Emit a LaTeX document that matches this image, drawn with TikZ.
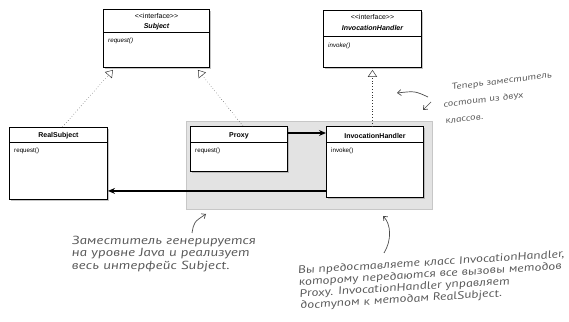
\documentclass[tikz,border=0pt]{standalone}
\usepackage{fontspec}
\setmainfont{Liberation Sans}
\newfontfamily\stereofont{Liberation Sans}
\newfontfamily\handfont[FakeStretch=1.3, ItalicFeatures={FakeSlant=-0.16}]{PT Sans}
\usetikzlibrary{calc,positioning,arrows.meta,shadows}
\tikzstyle{umlbox}    = [draw, line width=0.8pt, fill=white, anchor=north west, inner sep=0pt, drop shadow={shadow xshift=1.6pt, shadow yshift=-1.6pt, fill=black!45}]
\tikzstyle{umlline}   = [line width=0.8pt]
\tikzstyle{stereo}    = [inner sep=0pt, font=\stereofont\fontsize{6}{6}\selectfont]
\tikzstyle{cname}     = [inner sep=0pt, font=\bfseries\fontsize{6}{7}\selectfont]
\tikzstyle{method}    = [inner sep=0pt, anchor=west, font=\fontsize{5.3}{6}\selectfont]
\tikzstyle{realize}   = [thin, dotted, black!80, -{Triangle[open, length=6pt, width=8pt]}]
\tikzstyle{assoc}     = [-{Stealth[length=6pt, width=5pt]}]
\tikzstyle{note}      = [inner sep=0pt, align=left, text=black!65]
\tikzstyle{notearrow} = [black!70, semithick, -{Straight Barb[length=3pt, width=5pt]}]

\begin{document}
\begin{tikzpicture}[x=0.3mm, y=-0.3mm]
        \useasboundingbox (0,0) rectangle (569,322);

        % proxy group
        \fill[black!11, draw=black!22] (186,121) rectangle (432,209);

        % interfaces
        \node[umlbox, minimum width=31.8mm, minimum height=17.4mm] (subj) at (103,9) {};
        \draw[umlline] ($(subj.north west)+(0,23)$) -- ($(subj.north east)+(0,23)$);
        \node[stereo] (subjst) at ($(subj.north)+(0,7)$) {<<interface>>};
        \node[cname] (subjname) at ($(subj.north)+(0,18)$) {\itshape Subject};
        \node[method] (subjreq) at ($(subj.north west)+(5,32)$) {\itshape request()};

        \node[umlbox, minimum width=29.4mm, minimum height=17.1mm] (ihint) at (323,10) {};
        \draw[umlline] ($(ihint.north west)+(0,26)$) -- ($(ihint.north east)+(0,26)$);
        \node[stereo] (ihintst) at ($(ihint.north)+(0,7)$) {<<interface>>};
        \node[cname] (ihintname) at ($(ihint.north)+(0,18)$) {\itshape InvocationHandler};
        \node[method] (ihintinv) at ($(ihint.north west)+(5,36)$) {\itshape invoke()};

        % classes
        \node[umlbox, minimum width=29.4mm, minimum height=21.6mm] (real) at (9,127) {};
        \draw[umlline] ($(real.north west)+(0,15)$) -- ($(real.north east)+(0,15)$);
        \node[cname] (realname) at ($(real.north)+(0,9)$) {RealSubject};
        \node[method] (realreq) at ($(real.north west)+(5,24)$) {request()};

        \node[umlbox, minimum width=29.1mm, minimum height=13.5mm] (proxy) at (190,126) {};
        \draw[umlline] ($(proxy.north west)+(0,16)$) -- ($(proxy.north east)+(0,16)$);
        \node[cname] (proxyname) at ($(proxy.north)+(0,10)$) {Proxy};
        \node[method] (proxyreq) at ($(proxy.north west)+(5,25)$) {request()};

        \node[umlbox, minimum width=29.1mm, minimum height=21.3mm] (ih) at (326,126) {};
        \draw[umlline] ($(ih.north west)+(0,16)$) -- ($(ih.north east)+(0,16)$);
        \node[cname] (ihname) at ($(ih.north)+(0,10)$) {InvocationHandler};
        \node[method] (ihinv) at ($(ih.north west)+(5,25)$) {invoke()};

        % connectors
        \coordinate (callout) at ($(proxy.north east)+(0,7)$);
        \coordinate (callback) at ($(ih.south west)+(0,-7)$);
        \draw[realize] ($(real.north)+(4,0)$) -- ($(subj.south west)+(10,2)$);
        \draw[realize] ($(proxy.north)+(4,0)$) -- ($(subj.south east)+(-12,2)$);
        \draw[realize] (ih.north -| ihint.south) -- ($(ihint.south)+(0,2)$);
        \draw[assoc, line width=1.1pt] (callout) -- (callout -| ih.west);
        \draw[assoc, line width=1.6pt] (callback) -- (callback -| real.east);

        % notes
        \node[note, rotate=7, anchor=north west, font=\handfont\itshape\fontsize{7.4}{14}\selectfont] (twoclasses) at (441,85)
            {\hspace*{9pt}Теперь заместитель\\состоит из двух\\классов.};
        \coordinate (twoa) at (428,97);
        \coordinate (twob) at (397,93);
        \coordinate (twoc) at (431,102);
        \coordinate (twod) at (423,110);
        \draw[notearrow] (twoa) .. controls (415,91) .. (twob);
        \draw[notearrow] (twoc) -- (twod);

        \node[note, anchor=north west, font=\handfont\itshape\fontsize{10}{10.6}\selectfont] (generated) at (72,236)
            {Заместитель генерируется\\на уровне Java и реализует\\весь интерфейс Subject.};
        \coordinate (gena) at (192,233);
        \coordinate (genb) at (206,214);
        \draw[notearrow] (gena) .. controls (194,222) .. (genb);

        \node[note, rotate=3.5, anchor=north west, font=\handfont\itshape\fontsize{9.2}{10}\selectfont] (provide) at (298,266)
            {Вы предоставляете класс InvocationHandler,\\которому передаются все вызовы методов\\Proxy. InvocationHandler управляет\\доступом к методам RealSubject.};
        \coordinate (prova) at (384,253);
        \coordinate (provb) at (383,216);
        \draw[notearrow] (prova) .. controls (392,240) and (391,224) .. (provb);
    \end{tikzpicture}
\end{document}
